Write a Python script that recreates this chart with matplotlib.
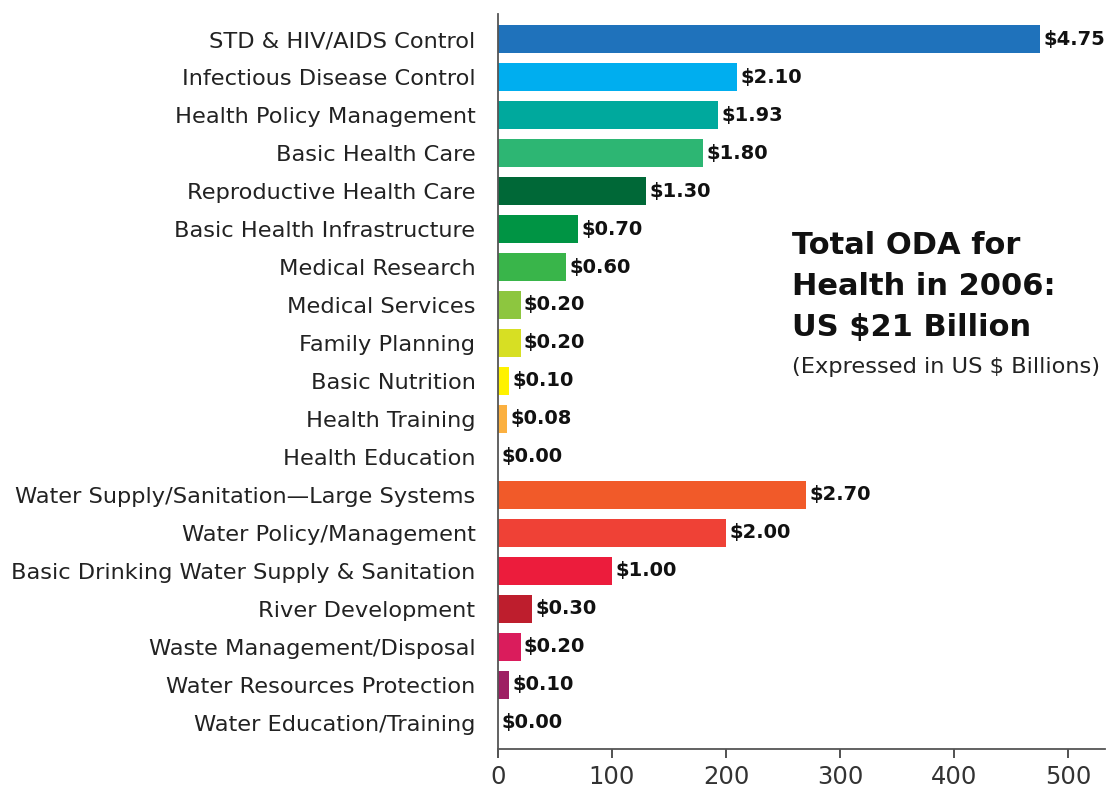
import matplotlib.pyplot as plt

# ODA for health 2006, US $ billions
categories = [
    "STD & HIV/AIDS Control", "Infectious Disease Control", "Health Policy Management",
    "Basic Health Care", "Reproductive Health Care", "Basic Health Infrastructure",
    "Medical Research", "Medical Services", "Family Planning", "Basic Nutrition",
    "Health Training", "Health Education",
    "Water Supply/Sanitation\u2014Large Systems", "Water Policy/Management",
    "Basic Drinking Water Supply & Sanitation", "River Development",
    "Waste Management/Disposal", "Water Resources Protection", "Water Education/Training",
]
values = [4.75, 2.10, 1.93, 1.80, 1.30, 0.70, 0.60, 0.20, 0.20, 0.10, 0.08, 0.00,
          2.70, 2.00, 1.00, 0.30, 0.20, 0.10, 0.00]
colors = ["#1f72bb", "#00aeef", "#00a99d", "#2db673", "#006837", "#009444", "#39b54a",
          "#8dc63f", "#d7df23", "#fff200", "#fbb040", "#ffffff",
          "#f15a29", "#ef4136", "#ec1c3c", "#be1e2d", "#da1c5c", "#9e1f63", "#ffffff"]
xticks = [0, 100, 200, 300, 400, 500]

plt.rcParams['font.family'] = ['DejaVu Sans']

fig = plt.figure(figsize=(11.06, 7.87), dpi=100)
ax = fig.add_axes([0.450, 0.048, 0.549, 0.934])

ypos = list(range(len(categories)))
scaled = [v * 100 for v in values]
ax.barh(ypos, scaled, height=0.74, color=colors)

for y, v, s in zip(ypos, values, scaled):
    ax.annotate(f"${v:.2f}", (s, y), xytext=(2.5, 0), textcoords="offset points",
                va="center", ha="left", fontsize=14, fontweight="bold", color="#111111")

ax.set_yticks(ypos)
ax.set_yticklabels(categories, fontsize=16.2, color="#222222")
ax.set_ylim(len(categories) - 1 + 0.7, -0.66)
ax.set_xlim(0, 532)
ax.set_xticks(xticks)
ax.set_xticklabels([str(t) for t in xticks], fontsize=17.5, color="#333333")

ax.tick_params(axis="y", length=0, pad=16)
ax.tick_params(axis="x", direction="out", length=6.5, width=1.2, color="#333333", pad=5)
for side in ["top", "right"]:
    ax.spines[side].set_visible(False)
for side in ["left", "bottom"]:
    ax.spines[side].set_color("#555555")
    ax.spines[side].set_linewidth(1.3)

ax.text(0.485, 0.705, "Total ODA for\nHealth in 2006:\nUS $21 Billion", transform=ax.transAxes,
        fontsize=22, fontweight="bold", va="top", ha="left", linespacing=1.52, color="#111111")
ax.text(0.485, 0.533, "(Expressed in US $ Billions)", transform=ax.transAxes,
        fontsize=16.2, va="top", ha="left", color="#222222")

fig.savefig("out.png", dpi=100)
